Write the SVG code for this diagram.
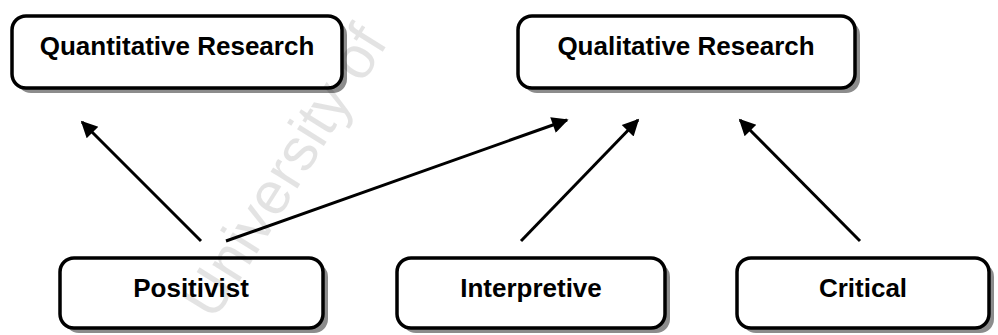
<svg xmlns="http://www.w3.org/2000/svg" width="998" height="335" viewBox="0 0 998 335">
<defs>
<style>
.sh{fill:#8c8c8c;}
.bx{fill:#ffffff;stroke:#000;stroke-width:3.5;}
.lb{font-family:"Liberation Sans",Arial,sans-serif;font-weight:bold;font-size:26px;fill:#000;text-anchor:middle;}
.wm{font-family:"Liberation Sans",Arial,sans-serif;font-size:60px;fill:#000;fill-opacity:0.11;}
.ar{stroke:#000;stroke-width:3;fill:none;marker-end:url(#ah);}
</style>
<marker id="ah" viewBox="0 0 10 10" refX="9" refY="5" markerWidth="7" markerHeight="5.5" orient="auto" markerUnits="strokeWidth">
<path d="M0,0 L10,5 L0,10 z" fill="#000"/>
</marker>
</defs>
<rect width="998" height="335" fill="#fff"/>
<g id="connectors">
<line class="ar" x1="201" y1="241" x2="82" y2="122"/>
<line class="ar" x1="226" y1="241" x2="567" y2="120"/>
<line class="ar" x1="521" y1="241" x2="638" y2="120"/>
<line class="ar" x1="860" y1="241" x2="740" y2="120"/>
</g>
<g id="n-quant">
<rect class="sh" x="17" y="21" width="330" height="72" rx="14"/>
<rect class="bx" x="12" y="16" width="330" height="72" rx="14"/>
<text class="lb" x="177" y="55">Quantitative Research</text>
</g>
<g id="n-qual">
<rect class="sh" x="523" y="21" width="337" height="72" rx="14"/>
<rect class="bx" x="518" y="16" width="337" height="72" rx="14"/>
<text class="lb" x="686" y="55">Qualitative Research</text>
</g>
<g id="n-pos">
<rect class="sh" x="65" y="263" width="263" height="70" rx="14"/>
<rect class="bx" x="60" y="258" width="263" height="70" rx="14"/>
<text class="lb" x="191" y="297">Positivist</text>
</g>
<g id="n-int">
<rect class="sh" x="402" y="263" width="268" height="70" rx="14"/>
<rect class="bx" x="397" y="258" width="268" height="70" rx="14"/>
<text class="lb" x="531" y="297">Interpretive</text>
</g>
<g id="n-crit">
<rect class="sh" x="742" y="263" width="252" height="70" rx="14"/>
<rect class="bx" x="737" y="258" width="252" height="70" rx="14"/>
<text class="lb" x="863" y="297">Critical</text>
</g>
<g id="watermark"><text class="wm" x="214" y="322" transform="rotate(-58 214 322)">University of</text></g>
</svg>
